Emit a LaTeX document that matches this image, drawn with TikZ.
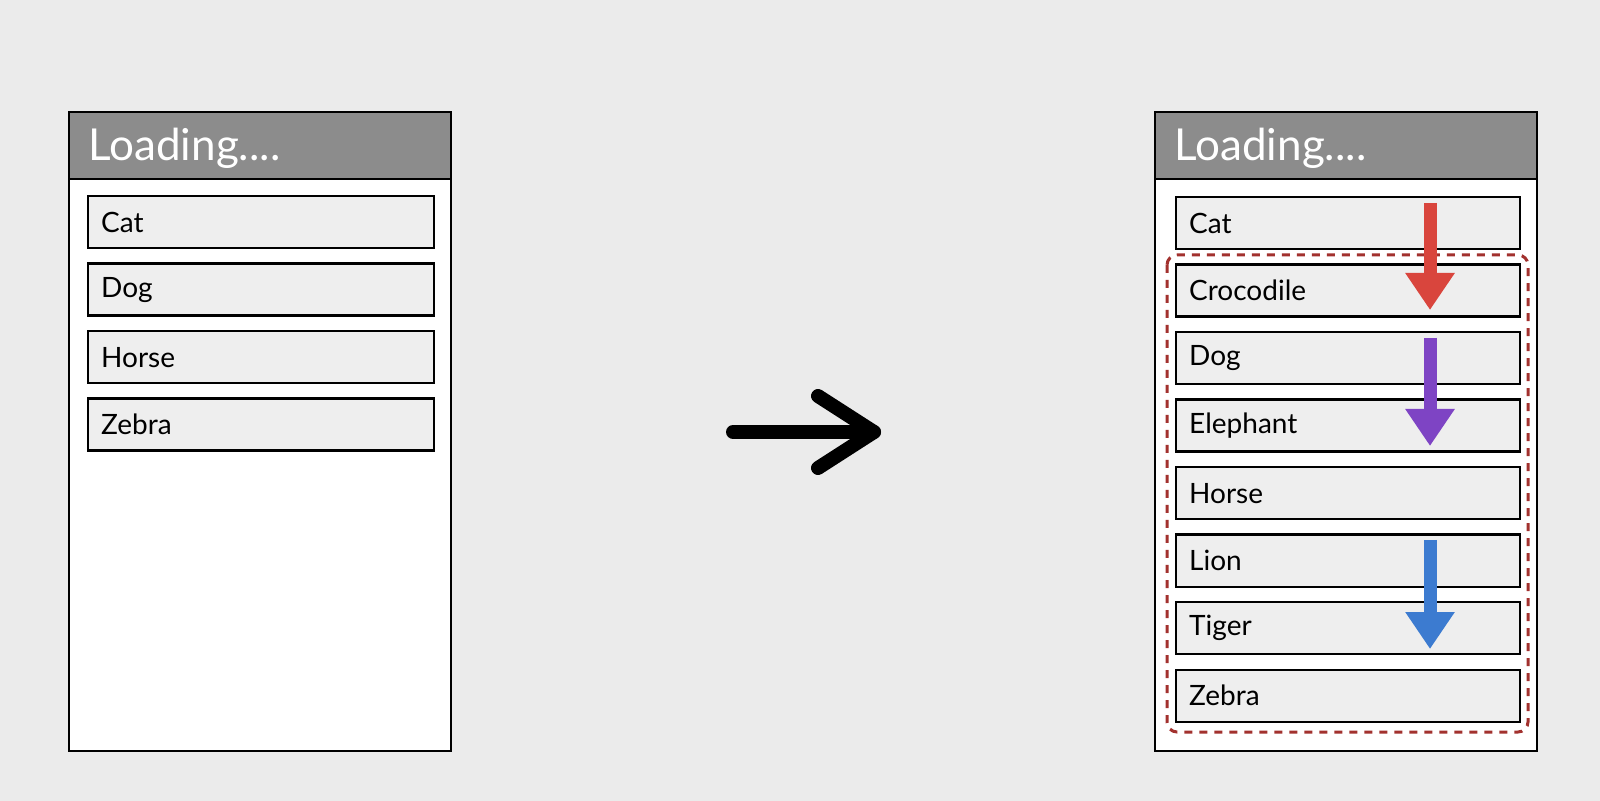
\documentclass[tikz,border=0pt]{standalone}
\usepackage{fontspec}
\setmainfont{Lato}
\usetikzlibrary{arrows.meta,calc}
\definecolor{bg}{HTML}{EBEBEB}
\definecolor{hdr}{HTML}{8C8C8C}
\definecolor{itemfill}{HTML}{EEEEEE}
\definecolor{dashred}{HTML}{A2312E}
\definecolor{ared}{HTML}{D9453D}
\definecolor{apurple}{HTML}{7E44C4}
\definecolor{ablue}{HTML}{3C7BD0}
\begin{document}
\begin{tikzpicture}[x=0.5pt,y=-0.5pt,
  panel/.style={draw=black, line width=1.3pt, fill=white},
  header/.style={draw=black, line width=1.3pt, fill=hdr},
  hdrtext/.style={text=white, font=\fontsize{22}{24}\selectfont, anchor=west, inner sep=0pt},
  item/.style={draw=black, line width=1.2pt, fill=itemfill, anchor=north west,
    minimum height=26pt, inner ysep=0pt, inner xsep=6.5pt, align=left,
    font=\fontsize{14}{16}\selectfont},
  litem/.style={item, text width=160pt},
  ritem/.style={item, text width=159pt},
  group/.style={draw=dashred, line width=1.5pt, dash pattern=on 4pt off 3.5pt, rounded corners=5pt},
  bigarrow/.style={line width=6.5pt, -{Triangle[width=23.5pt,length=18.5pt]}},
  movearrow/.style={line width=7pt, line cap=round, line join=round}
]
\useasboundingbox (0,0) rectangle (1600,801);
\fill[bg] (0,0) rectangle (1600,801);

% left panel
\draw[panel] (69,112) rectangle (451,751);
\draw[header] (69,112) rectangle (451,179);
\node[hdrtext] (lhead) at (88,148) {Loading....};
\node[litem] (l1) at (87,195) {Cat};
\node[litem] (l2) at (87,262.5) {Dog};
\node[litem] (l3) at (87,330) {Horse};
\node[litem] (l4) at (87,397.5) {Zebra};

% right panel
\draw[panel] (1155,112) rectangle (1537,751);
\draw[header] (1155,112) rectangle (1537,179);
\node[hdrtext] (rhead) at (1174,148) {Loading....};
\draw[group] (1167,255) rectangle (1528,732);
\node[ritem] (r1) at (1175,196) {Cat};
\node[ritem] (r2) at (1175,263.5) {Crocodile};
\node[ritem] (r3) at (1175,331) {Dog};
\node[ritem] (r4) at (1175,398.5) {Elephant};
\node[ritem] (r5) at (1175,466) {Horse};
\node[ritem] (r6) at (1175,533.5) {Lion};
\node[ritem] (r7) at (1175,601) {Tiger};
\node[ritem] (r8) at (1175,668.5) {Zebra};

% insertion arrows
\coordinate (ra) at (1430,203);
\coordinate (rb) at (1430,310);
\coordinate (pa) at (1430,338);
\coordinate (pb) at (1430,446);
\coordinate (ba) at (1430,540);
\coordinate (bb) at (1430,649);
\draw[bigarrow, ared] (ra) -- (rb);
\draw[bigarrow, apurple] (pa) -- (pb);
\draw[bigarrow, ablue] (ba) -- (bb);

% middle transition arrow
\coordinate (ma) at (733,432);
\coordinate (mb) at (874,432);
\coordinate (mu) at (818,396);
\coordinate (md) at (818,468);
\draw[movearrow] (ma) -- (mb);
\draw[movearrow] (mu) -- (mb) -- (md);
\end{tikzpicture}
\end{document}
